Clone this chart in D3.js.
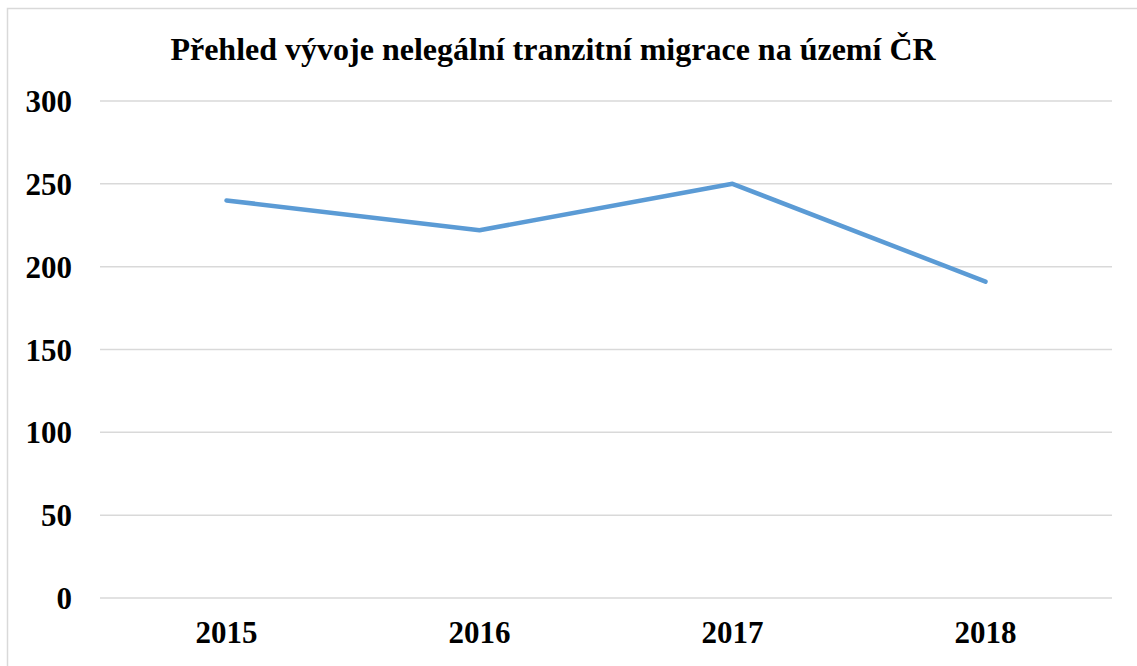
<!DOCTYPE html>
<html>
<head>
<meta charset="utf-8">
<script src="https://cdn.jsdelivr.net/npm/d3@7"></script>
<style>
  body { margin: 0; background: #fff; }
</style>
</head>
<body>
<div id="viz-container"></div>
<script>
// chart data
let years = ["2015", "2016", "2017", "2018"];
let values = [240, 222, 250, 191];
let yTicks = [0, 50, 100, 150, 200, 250, 300];
let title = "Přehled vývoje nelegální tranzitní migrace na území ČR";

let W = 1137, H = 666;
let plotLeft = 100, plotRight = 1112, plotTop = 101, plotBottom = 598;
let serif = "'Liberation Serif', 'Times New Roman', serif";

let viz = d3.select("#viz-container")
    .append("svg")
    .attr("width", W)
    .attr("height", H);

// outer chart frame (right and bottom run off the picture)
viz.append("rect")
    .attr("x", 7.5)
    .attr("y", 8.5)
    .attr("width", 1200)
    .attr("height", 800)
    .attr("fill", "none")
    .attr("stroke", "#d9d9d9")
    .attr("stroke-width", 1.5);

let x = d3.scaleBand().domain(years).range([plotLeft, plotRight]);
let y = d3.scaleLinear().domain([0, 300]).range([plotBottom, plotTop]);

// gridlines
viz.selectAll(".grid").data(yTicks).enter().append("line")
    .attr("class", "grid")
    .attr("x1", plotLeft)
    .attr("x2", plotRight)
    .attr("y1", d => y(d))
    .attr("y2", d => y(d))
    .attr("stroke", "#d9d9d9")
    .attr("stroke-width", 1.5);

// y axis labels
let yAxis = d3.axisLeft(y).tickValues(yTicks).tickSize(0).tickPadding(0);
let yg = viz.append("g")
    .attr("transform", "translate(72,0)")
    .call(yAxis)
    .attr("font-family", serif)
    .attr("font-size", 31)
    .attr("font-weight", "bold");
yg.select(".domain").remove();
yg.selectAll("text")
    .attr("fill", "#000")
    .attr("dy", "0.34em");

// x axis labels
let xAxis = d3.axisBottom(x).tickSize(0).tickPadding(0);
let xg = viz.append("g")
    .attr("transform", "translate(0,643)")
    .call(xAxis)
    .attr("font-family", serif)
    .attr("font-size", 31)
    .attr("font-weight", "bold");
xg.select(".domain").remove();
xg.selectAll("text")
    .attr("fill", "#000")
    .attr("y", 0)
    .attr("dy", 0);

// the line
let line = d3.line()
    .x((d, i) => x(years[i]) + x.bandwidth() / 2)
    .y(d => y(d));

viz.append("path")
    .datum(values)
    .attr("d", line)
    .attr("fill", "none")
    .attr("stroke", "#5b9bd5")
    .attr("stroke-width", 4.5)
    .attr("stroke-linecap", "round")
    .attr("stroke-linejoin", "round");

// title
viz.append("text")
    .attr("x", 553)
    .attr("y", 60)
    .attr("text-anchor", "middle")
    .attr("font-family", serif)
    .attr("font-weight", "bold")
    .attr("font-size", 32)
    .attr("fill", "#000")
    .text(title);
</script>
</body>
</html>
